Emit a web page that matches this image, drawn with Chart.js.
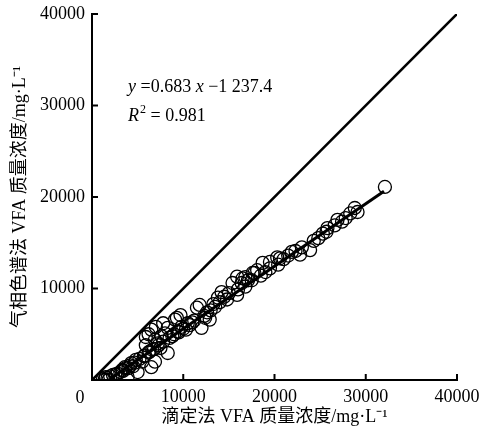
<!DOCTYPE html>
<html>
<head>
<meta charset="utf-8">
<script src="https://cdn.jsdelivr.net/npm/chart.js@4/dist/chart.umd.min.js"></script>
<style>
html,body{margin:0;padding:0;background:#fff;}
#wrap{width:480px;height:433px;position:relative;}
</style>
</head>
<body>
<div id="wrap"><canvas id="c" width="480" height="433"></canvas></div>
<script>
// ---- data ----
const xValues = [1200,1500,1800,1700,2000,2300,1400,2600,
  3100,3600,3900,4300,4800,5000,3400,4000,4500,5500,6500,6900,5800,6200,
  6500,5900,6900,8000,5900,7500,8300,8300,7000,7200,
  9100,10700,12000,12900,11800,11500,12600,9800,10300,11000,9500,8800,9700,
  13800,14200,15900,15400,16400,17100,15900,16500,13500,14800,15000,
  18100,18700,19500,19500,20300,20600,20400,21900,22800,23900,23000,
  25700,25800,26600,27400,26900,28800,29100,32100,
  2800,3300,3700,4200,4700,5200,5700,6300,6800,7300,7800,8500,9000,9400,
  10000,10500,11200,12300,13000,13300,14000,14500,16000,16800,17500,17800,
  18500,19000,21000,21500,22300,24300,24800,25300,27800,28300,16800,17600,12400,9300,
  6200,7600,7800,6600];
const yValues = [100,300,0,200,400,550,50,600,
  870,1400,330,1850,2200,870,1000,1300,1500,2000,1400,2000,2700,3000,
  5500,4700,4400,5100,3800,3500,2950,5700,5800,4000,
  6600,6000,5700,6600,8200,7900,7400,5800,5500,6300,5200,4800,7100,
  9000,9600,9300,10600,10600,10900,11300,11100,8000,8800,9500,
  12000,12800,12900,12200,13400,13300,12600,14000,13700,14200,14500,
  16200,16600,16900,17300,17500,18800,18360,21100,
  700,1100,1300,1600,1900,2300,2600,3100,3400,3800,4200,4600,5000,5300,
  5600,6200,6500,7000,7600,8300,8500,9100,9900,10200,10900,11700,
  11400,11800,13200,13600,14100,15200,15500,16000,17700,18200,11250,11700,6800,6800,
  5000,4800,6200,3300];
const identityX = [0, 40000];
const identityY = [0, 40000];
const fitX = [2000, 32000];
const fitY = [129, 20619];
const tickValues = [0, 10000, 20000, 30000, 40000];
const xTitle = '滴定法 VFA 质量浓度/mg·L⁻¹';
const yTitle = '气相色谱法 VFA 质量浓度/mg·L⁻¹';
const eqParts = [['y',true],[' =0.683 ',false],['x',true],[' −1 237.4',false]];
const r2Parts = [['R',true],['2',false,'sup'],[' = 0.981',false]];

const FONT = "'Liberation Serif', 'Noto Sans CJK SC', serif";

const toPts = (xs, ys) => xs.map((x, i) => ({x: x, y: ys[i]}));

const overlay = {
  id: 'overlay',
  afterDraw(chart) {
    const ctx = chart.ctx;
    const xs = chart.scales.x, ys = chart.scales.y;
    ctx.save();
    ctx.strokeStyle = '#000';
    ctx.lineWidth = 2;
    tickValues.forEach(v => {
      if (v === 0) return;
      const px = xs.getPixelForValue(v);
      ctx.beginPath(); ctx.moveTo(px, xs.top); ctx.lineTo(px, xs.top - 6); ctx.stroke();
      const py = ys.getPixelForValue(v);
      ctx.beginPath(); ctx.moveTo(ys.right, py); ctx.lineTo(ys.right + 6, py); ctx.stroke();
    });
    ctx.fillStyle = '#000';
    ctx.font = '18px ' + FONT;
    ctx.textAlign = 'center';
    ctx.textBaseline = 'middle';
    ctx.fillText('0', xs.getPixelForValue(0) - 12, ys.getPixelForValue(0) + 18);
    const drawParts = (parts, x0, y0) => {
      let x = x0;
      ctx.textAlign = 'left';
      ctx.textBaseline = 'alphabetic';
      parts.forEach(p => {
        if (p[2] === 'sup') {
          ctx.font = '12px ' + FONT;
          ctx.fillText(p[0], x + 1, y0 - 8);
          x += ctx.measureText(p[0]).width + 1;
        } else {
          ctx.font = (p[1] ? 'italic ' : '') + '18px ' + FONT;
          ctx.fillText(p[0], x, y0);
          x += ctx.measureText(p[0]).width;
        }
      });
    };
    drawParts(eqParts, xs.getPixelForValue(3950), ys.getPixelForValue(31500));
    drawParts(r2Parts, xs.getPixelForValue(3950), ys.getPixelForValue(28300));
    ctx.restore();
  }
};

new Chart(document.getElementById('c'), {
  type: 'scatter',
  data: {
    datasets: [
      {
        data: toPts(identityX, identityY), showLine: true, borderColor: '#000',
        borderWidth: 2.6, pointRadius: 0, fill: false, order: 1
      },
      {
        data: toPts(fitX, fitY), showLine: true, borderColor: '#000',
        borderWidth: 3, pointRadius: 0, fill: false, order: 0
      },
      {
        data: toPts(xValues, yValues), showLine: false, pointStyle: 'circle',
        pointRadius: 6.5, pointBorderWidth: 1.3, pointBorderColor: '#000',
        pointBackgroundColor: 'rgba(255,255,255,0)', order: 2
      }
    ]
  },
  options: {
    responsive: false,
    animation: false,
    devicePixelRatio: 1,
    layout: {padding: {left: 0, right: 0, top: 0, bottom: 0}},
    plugins: {legend: {display: false}, tooltip: {enabled: false}},
    scales: {
      x: {
        type: 'linear', min: 0, max: 40000,
        afterBuildTicks: s => { s.ticks = tickValues.map(v => ({value: v})); },
        afterFit: s => { s.height = 53; s.paddingRight = 23; s.paddingLeft = 0; },
        grid: {display: false, drawTicks: false},
        border: {display: true, color: '#000', width: 2},
        ticks: {
          padding: 6, color: '#000', font: {family: FONT, size: 18},
          maxRotation: 0, autoSkip: false,
          callback: v => v === 0 ? '' : String(v)
        },
        title: {display: true, text: xTitle, color: '#000',
          font: {family: FONT, size: 18}, padding: {top: 0, bottom: 5}}
      },
      y: {
        type: 'linear', min: 0, max: 40000,
        afterBuildTicks: s => { s.ticks = tickValues.map(v => ({value: v})); },
        afterFit: s => { s.width = 92; s.paddingTop = 14; s.paddingBottom = 0; },
        grid: {display: false, drawTicks: false},
        border: {display: true, color: '#000', width: 2},
        ticks: {
          padding: 7, color: '#000', font: {family: FONT, size: 18},
          autoSkip: false,
          callback: v => v === 0 ? '' : String(v)
        },
        title: {display: true, text: yTitle, color: '#000',
          font: {family: FONT, size: 18}, padding: {top: 9, bottom: 0}}
      }
    }
  },
  plugins: [overlay]
});
</script>
</body>
</html>
